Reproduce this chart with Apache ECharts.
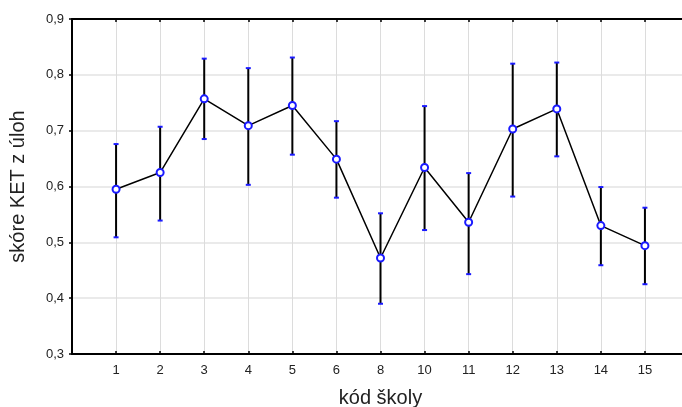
<!DOCTYPE html>
<html>
<head>
<meta charset="utf-8">
<script src="https://cdn.jsdelivr.net/npm/echarts@6/dist/echarts.min.js"></script>
<style>
  html, body { margin: 0; padding: 0; background: #fff; }
  #chart { width: 682px; height: 407px; }
</style>
</head>
<body>
<div id="chart"></div>
<script>
// kód školy
var schools = ['1', '2', '3', '4', '5', '6', '8', '10', '11', '12', '13', '14', '15'];
// mean score and the ends of the error bars
var means = [0.595, 0.625, 0.757, 0.709, 0.745, 0.649, 0.472, 0.634, 0.536, 0.703, 0.739, 0.530, 0.494];
var upper = [0.676, 0.707, 0.829, 0.812, 0.831, 0.717, 0.552, 0.744, 0.624, 0.820, 0.822, 0.599, 0.562];
var lower = [0.509, 0.539, 0.685, 0.603, 0.657, 0.580, 0.390, 0.522, 0.443, 0.582, 0.654, 0.459, 0.425];
var yTicks = ['0,3', '0,4', '0,5', '0,6', '0,7', '0,8', '0,9'];

var chart = echarts.init(document.getElementById('chart'));

var points = means.map(function (m, i) { return [i + 1, m]; });
var bars = schools.map(function (s, i) { return [i + 1, lower[i], upper[i]]; });

function schoolLabel(v) {
  return schools[v - 1] || '';
}

var option = {
  animation: false,
  grid: { left: 72, right: -7, top: 19, bottom: 53, outerBoundsMode: 'none' },
  xAxis: [
    {
      type: 'value',
      min: 0,
      max: 14,
      interval: 1,
      name: 'kód školy',
      nameLocation: 'middle',
      nameGap: 34,
      nameTextStyle: { fontFamily: 'Liberation Sans', fontSize: 20, color: '#222' },
      axisLine: { lineStyle: { color: '#000', width: 2 } },
      axisTick: { inside: true, length: 3, lineStyle: { color: '#000', width: 1.5 } },
      axisLabel: {
        formatter: schoolLabel,
        fontFamily: 'Liberation Sans', fontSize: 13, color: '#222', margin: 10
      },
      splitLine: { show: true, lineStyle: { color: '#dcdcdc', width: 1 } }
    },
    {
      type: 'value',
      position: 'top',
      min: 0,
      max: 14,
      interval: 1,
      axisLine: { lineStyle: { color: '#000', width: 2 } },
      axisTick: { inside: true, length: 3, lineStyle: { color: '#000', width: 1.5 } },
      axisLabel: { show: false },
      splitLine: { show: false }
    }
  ],
  yAxis: {
    type: 'value',
    min: 0.3,
    max: 0.9,
    interval: 0.1,
    name: 'skóre KET z úloh',
    nameLocation: 'middle',
    nameGap: 44,
    nameTextStyle: { fontFamily: 'Liberation Sans', fontSize: 20, color: '#222' },
    axisLine: { show: true, lineStyle: { color: '#000', width: 2 } },
    axisTick: { show: true, length: 3, lineStyle: { color: '#000', width: 1.5 } },
    axisLabel: {
      formatter: function (v) {
        return yTicks[Math.round((v - 0.3) * 10)];
      },
      fontFamily: 'Liberation Sans', fontSize: 13, color: '#222', margin: 8
    },
    splitLine: { show: true, lineStyle: { color: '#e3e3e3', width: 1.5 } }
  },
  series: [
    {
      type: 'custom',
      data: bars,
      z: 3,
      renderItem: function (params, api) {
        var x = api.value(0);
        var lo = api.coord([x, api.value(1)]);
        var hi = api.coord([x, api.value(2)]);
        var w = 2.5;
        return {
          type: 'group',
          children: [
            {
              type: 'line',
              shape: { x1: lo[0], y1: lo[1], x2: hi[0], y2: hi[1] },
              style: { stroke: '#000', lineWidth: 2 }
            },
            {
              type: 'line',
              shape: { x1: lo[0] - w, y1: lo[1], x2: lo[0] + w, y2: lo[1] },
              style: { stroke: '#1a1aff', lineWidth: 2 }
            },
            {
              type: 'line',
              shape: { x1: hi[0] - w, y1: hi[1], x2: hi[0] + w, y2: hi[1] },
              style: { stroke: '#1a1aff', lineWidth: 2 }
            }
          ]
        };
      }
    },
    {
      type: 'line',
      data: points,
      z: 4,
      symbol: 'circle',
      symbolSize: 7,
      showAllSymbol: true,
      lineStyle: { color: '#000', width: 1.5 },
      itemStyle: { color: '#fff', borderColor: '#1a1aff', borderWidth: 2 }
    }
  ]
};

chart.setOption(option);
</script>
</body>
</html>
